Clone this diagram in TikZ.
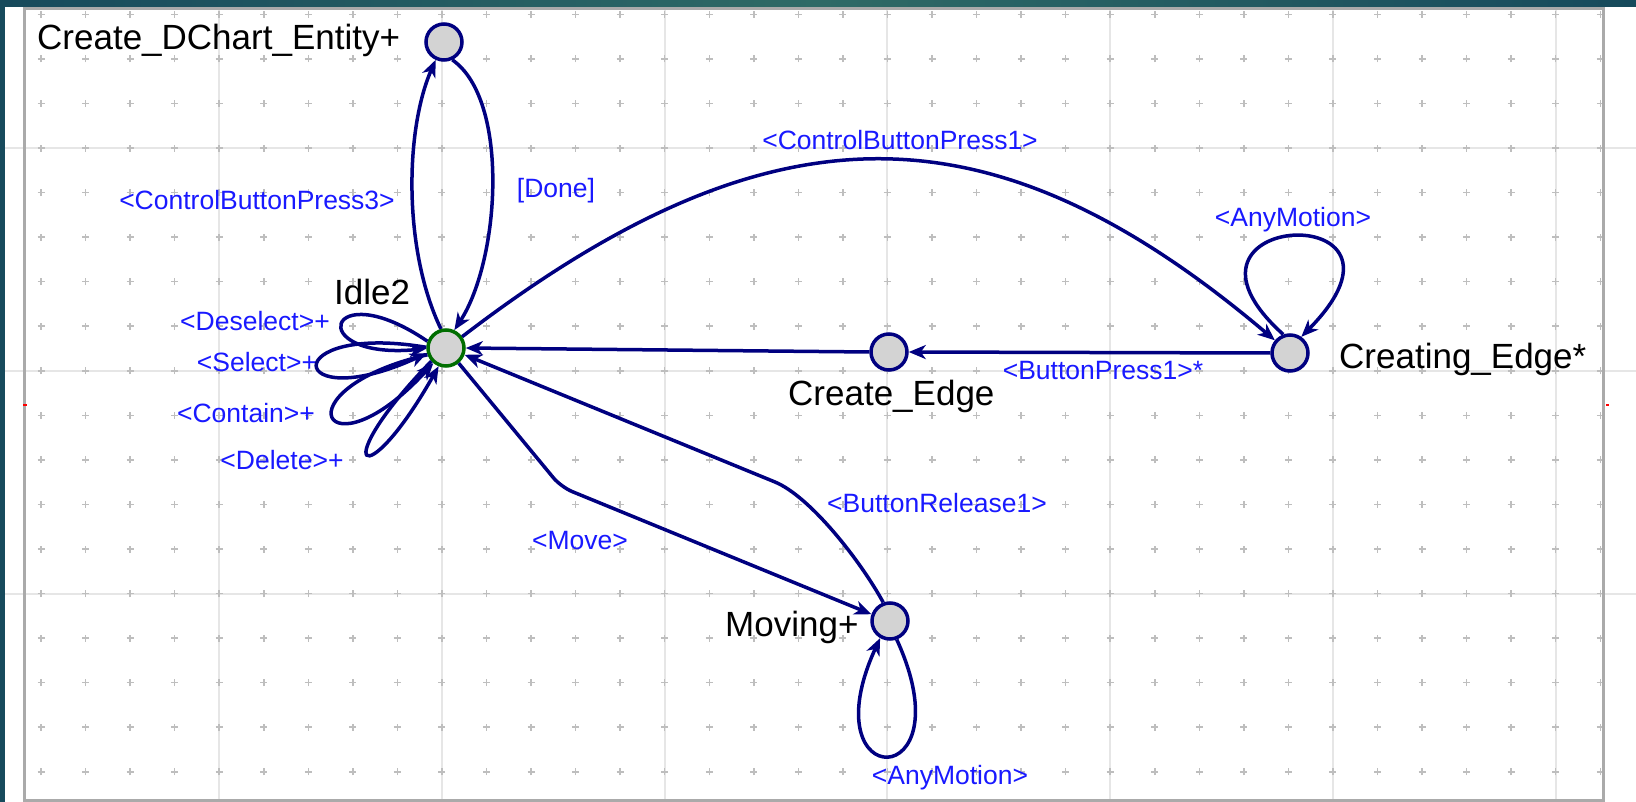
\documentclass[tikz,border=0pt]{standalone}
\usepackage{fontspec}
\setmainfont{Liberation Sans}
\usetikzlibrary{arrows.meta}
\definecolor{navy}{RGB}{0,0,128}
\definecolor{evblue}{RGB}{25,25,255}
\definecolor{stategrey}{RGB}{211,211,211}
\definecolor{idlegreen}{RGB}{0,110,0}
\definecolor{dotgrey}{RGB}{190,190,190}
\definecolor{gridgrey}{RGB}{230,230,230}
\definecolor{framegrey}{RGB}{170,170,170}
\definecolor{tealdark}{RGB}{23,74,92}
\definecolor{teallight}{RGB}{46,106,102}
\tikzset{
  evt/.style={text=evblue, font=\fontsize{26.5}{30}\selectfont, anchor=base, inner sep=0pt},
  stlabel/.style={font=\fontsize{35}{40}\selectfont, anchor=base west, inner sep=0pt, text=black},
  state/.style={circle, draw=navy, fill=stategrey, line width=3.5pt, minimum size=36pt, inner sep=0pt},
  tr/.style={draw=navy, line width=3.5pt, -{Stealth[length=17pt,width=14pt,inset=5pt]}},
  gridline/.style={draw=gridgrey, line width=2pt},
}
\begin{document}
\begin{tikzpicture}[x=1pt,y=1pt]
\useasboundingbox (0,0) rectangle (1636,-802);
% background
\fill[white] (0,0) rectangle (1636,-802);
\shade[left color=tealdark, right color=tealdark, middle color=teallight] (0,0) rectangle (1636,-7);
\fill[tealdark] (0,0) rectangle (5,-802);
% grid lines
\foreach \k in {0,...,6} \draw[gridline] ({219.2+222.75*\k},-9) -- ({219.2+222.75*\k},-800);
\foreach \k in {0,1,2} \draw[gridline] (5,{-148.05-222.75*\k}) -- (1636,{-148.05-222.75*\k});
% dots
\foreach \i in {0,...,35}{
  \foreach \j in {0,...,17}{
    \draw[dotgrey, line width=1.5pt] ({41+44.55*\i-3.5},{-14.4-44.55*\j}) -- ++(7,0) ++(-3.5,-3.5) -- ++(0,7);
  }
}
% frame
\draw[framegrey, line width=3pt] (24,-9) rectangle (1603,-800);
\fill[red] (23,-404) rectangle (27,-406);
\fill[red] (1606,-404) rectangle (1609,-406);
% states
\node[state] (cde) at (444,-42) {};
\node[state, draw=idlegreen] (idle) at (446,-348) {};
\node[state] (ce) at (889,-352) {};
\node[state] (cre) at (1290,-353) {};
\node[state] (mov) at (890,-621) {};
% state names
\node[stlabel] (lcde) at (37,-50) {Create\_DChart\_Entity+};
\node[stlabel] (lidle) at (334,-305) {Idle2};
\node[stlabel] (lce) at (788,-405) {Create\_Edge};
\node[stlabel] (lcre) at (1339,-368) {Creating\_Edge*};
\node[stlabel] (lmov) at (725,-636) {Moving+};
% event labels
\node[evt] (e1) at (257,-209.5) {<ControlButtonPress3>};
\node[evt] (e2) at (556,-197.5) {[Done]};
\node[evt] (e3) at (900,-149.5) {<ControlButtonPress1>};
\node[evt] (e4) at (1293,-227) {<AnyMotion>};
\node[evt] (e5) at (1103,-379.5) {<ButtonPress1>*};
\node[evt] (e6) at (255,-330.5) {<Deselect>+};
\node[evt] (e7) at (257,-371.5) {<Select>+};
\node[evt] (e8) at (246,-422.5) {<Contain>+};
\node[evt] (e9) at (282,-469.5) {<Delete>+};
\node[evt] (e10) at (937,-512.5) {<ButtonRelease1>};
\node[evt] (e11) at (580,-549.5) {<Move>};
\node[evt] (e12) at (950,-784) {<AnyMotion>};
% transitions
\draw[tr] (idle.105) .. controls (403,-250) and (405,-130) .. (cde.-115);
\draw[tr] (cde.-65) .. controls (510,-100) and (500,-260) .. (idle.65);
\draw[tr] (idle.35) .. controls (771,-100) and (991,-100) .. (cre.140);
\draw[tr] (cre.110) .. controls (1145,-210) and (1440,-196) .. (cre.55);
\draw[tr] (cre.west) -- (ce.east);
\draw[tr] (ce.west) -- (idle.east);
\draw[tr, rounded corners=12pt] (idle.-50) -- (561,-487) -- (mov.160);
\draw[tr] (mov.110) .. controls (860,-560) and (810,-496.5) .. (775,-482) -- (idle.-20);
\draw[tr] (mov.-70) .. controls (968,-795) and (808,-795) .. (mov.-120);
% self loops of Idle2
\draw[tr] (idle.160) .. controls (326,-272) and (303,-360) .. (idle.182);
\draw[tr] (idle.178) .. controls (276,-322) and (286,-418) .. (idle.195);
\draw[tr] (idle.200) .. controls (275.7,-389.6) and (324.9,-481.4) .. (idle.230);
\draw[tr] (idle.222) .. controls (326.1,-469.1) and (363.7,-498.9) .. (idle.248);
\end{tikzpicture}
\end{document}
